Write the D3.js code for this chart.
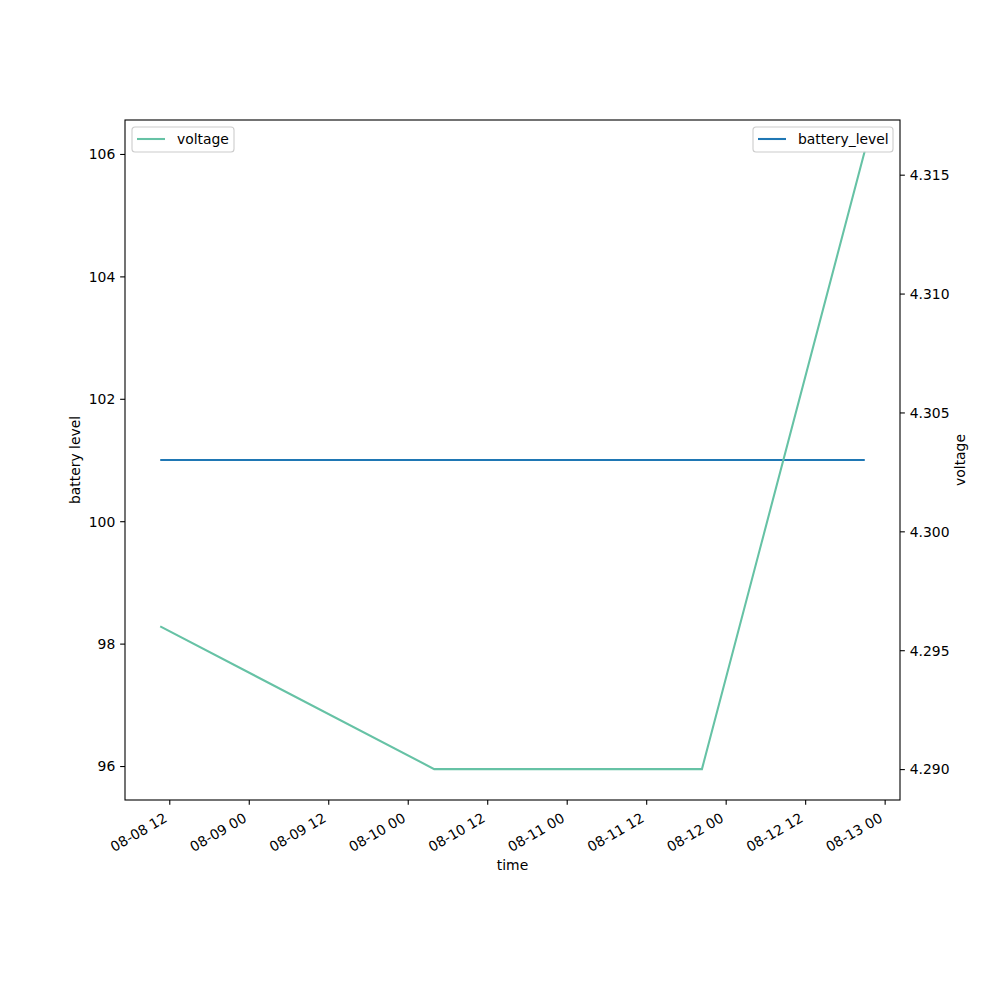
<!DOCTYPE html>
<meta charset="utf-8">
<script src="https://d3js.org/d3.v7.min.js"></script>
<style>
body { margin: 0; background: white; }
text { font-family: "DejaVu Sans", sans-serif; font-size: 13.9px; fill: black; }
</style>
<div id="my_dataviz"></div>
<script>

// data
var times = ["2023-08-08T10:38", "2023-08-10T04:00", "2023-08-11T20:25", "2023-08-12T21:00"];
var batteryLevel = [101, 101, 101, 101];
var voltage = [4.296, 4.290, 4.290, 4.316];
var leftTicks = [96, 98, 100, 102, 104, 106];
var rightTicks = [4.290, 4.295, 4.300, 4.305, 4.310, 4.315];

var parse = d3.timeParse("%Y-%m-%dT%H:%M");
var dates = times.map(parse);

// set the dimensions and margins of the graph
var margin = {top: 120, right: 100, bottom: 200, left: 125},
    width = 1000 - margin.left - margin.right,
    height = 1000 - margin.top - margin.bottom;

var svg = d3.select("#my_dataviz")
  .append("svg")
    .attr("width", 1000)
    .attr("height", 1000)
  .append("g")
    .attr("transform", "translate(" + margin.left + "," + margin.top + ")");

// matplotlib style 5% margins
function pad(ext, m) {
  var s = ext[1] - ext[0];
  return [ext[0] - s * m, ext[1] + s * m];
}

var tExt = d3.extent(dates).map(function(d) { return +d; });
var x = d3.scaleTime()
  .domain(pad(tExt, 0.05).map(function(d) { return new Date(d); }))
  .range([0, width]);

// constant series -> expand by 5% of value, then 5% margin
var bExt = d3.extent(batteryLevel);
if (bExt[0] === bExt[1]) bExt = [bExt[0] - 0.05 * Math.abs(bExt[0]), bExt[1] + 0.05 * Math.abs(bExt[1])];
var y = d3.scaleLinear().domain(pad(bExt, 0.05)).range([height, 0]);

var y2 = d3.scaleLinear().domain(pad(d3.extent(voltage), 0.05)).range([height, 0]);

var tickLen = 4.86;

// X axis
var xAxis = svg.append("g")
  .attr("transform", "translate(0," + height + ")")
  .call(d3.axisBottom(x)
    .ticks(d3.timeHour.every(12))
    .tickFormat(d3.timeFormat("%m-%d %H"))
    .tickSizeOuter(0)
    .tickSize(tickLen)
    .tickPadding(0));
xAxis.select(".domain").remove();
xAxis.selectAll("line").attr("stroke-width", 1.1);
xAxis.selectAll("text")
  .attr("y", null).attr("dy", null)
  .style("text-anchor", "end")
  .attr("transform", "translate(-1.6," + (tickLen + 4.86 + 11.2) + ") rotate(-30)");

// left Y axis
var yAxis = svg.append("g")
  .call(d3.axisLeft(y).tickValues(leftTicks).tickFormat(d3.format("d"))
    .tickSizeOuter(0).tickSize(tickLen).tickPadding(4.86));
yAxis.select(".domain").remove();
yAxis.selectAll("line").attr("stroke-width", 1.1);
yAxis.selectAll("text").attr("dy", "0.35em");

// right Y axis
var y2Axis = svg.append("g")
  .attr("transform", "translate(" + width + ",0)")
  .call(d3.axisRight(y2).tickValues(rightTicks).tickFormat(d3.format(".3f"))
    .tickSizeOuter(0).tickSize(tickLen).tickPadding(4.86));
y2Axis.select(".domain").remove();
y2Axis.selectAll("line").attr("stroke-width", 1.1);
y2Axis.selectAll("text").attr("dy", "0.35em");

// frame
svg.append("rect")
  .attr("width", width).attr("height", height)
  .attr("fill", "none").attr("stroke", "black").attr("stroke-width", 1.1);

// lines
var batteryLine = d3.line()
  .x(function(d, i) { return x(dates[i]); })
  .y(function(d) { return y(d); });
var voltageLine = d3.line()
  .x(function(d, i) { return x(dates[i]); })
  .y(function(d) { return y2(d); });

svg.append("path")
  .datum(batteryLevel)
  .attr("d", batteryLine)
  .attr("fill", "none").attr("stroke", "#1f77b4").attr("stroke-width", 2.08);

svg.append("path")
  .datum(voltage)
  .attr("d", voltageLine)
  .attr("fill", "none").attr("stroke", "#66c2a5").attr("stroke-width", 2.08);

// axis labels
svg.append("text")
  .attr("text-anchor", "middle")
  .attr("transform", "translate(-45," + (height / 2) + ") rotate(-90)")
  .text("battery level");
svg.append("text")
  .attr("text-anchor", "middle")
  .attr("transform", "translate(" + (width + 65) + "," + (height / 2) + ") rotate(-90)")
  .text("voltage");
svg.append("text")
  .attr("text-anchor", "middle")
  .attr("x", width / 2)
  .attr("y", height + 70)
  .text("time");

// legends
function legend(px, label, color, w) {
  var g = svg.append("g").attr("transform", "translate(" + px + ",7)");
  g.append("rect")
    .attr("width", w).attr("height", 25).attr("rx", 3)
    .attr("fill", "white").attr("fill-opacity", 0.8)
    .attr("stroke", "#cccccc").attr("stroke-width", 1.1);
  g.append("line")
    .attr("x1", 5).attr("x2", 33).attr("y1", 12).attr("y2", 12)
    .attr("stroke", color).attr("stroke-width", 2.08);
  g.append("text").attr("x", 45).attr("y", 16.5).text(label);
}
legend(7, "voltage", "#66c2a5", 102);
legend(width - 7 - 140, "battery_level", "#1f77b4", 140);

</script>
